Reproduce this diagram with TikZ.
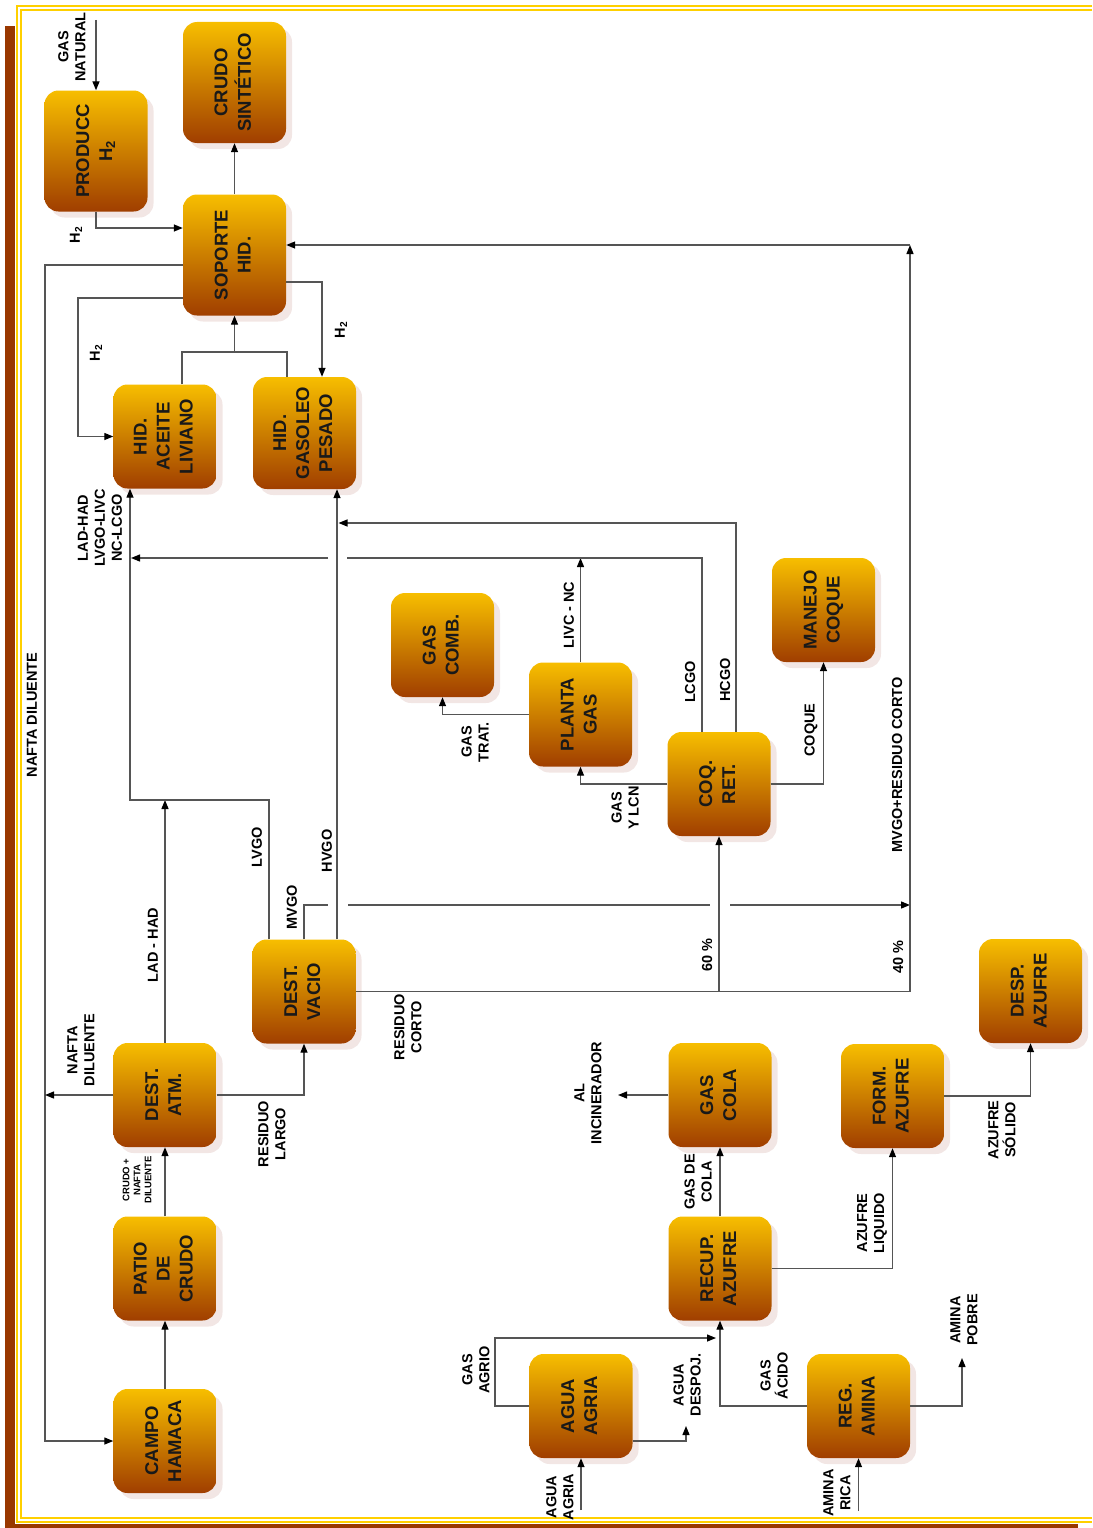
\documentclass[tikz,border=0pt]{standalone}
\usepackage{fontspec}
\setmainfont{Liberation Sans}
\usepackage{graphicx}
\usepackage{tikz}
\usetikzlibrary{arrows.meta, shadows}

\definecolor{boxtop}{RGB}{247,190,0}
\definecolor{boxbot}{RGB}{160,62,0}
\definecolor{shadowc}{RGB}{242,230,228}
\definecolor{linec}{RGB}{85,85,85}
\definecolor{frameyel}{RGB}{255,208,0}
\definecolor{framebrown}{RGB}{153,56,0}

% texto girado dentro de las unidades
\newcommand{\bx}[1]{\rotatebox{90}{\begin{tabular}{@{}c@{}}#1\end{tabular}}}

\begin{document}
\begin{tikzpicture}[x=1pt, y=-1pt,
  unit/.style={rectangle, rounded corners=14pt, top color=boxtop, bottom color=boxbot,
               minimum width=103pt, minimum height=104pt, inner sep=0pt,
               font=\fontsize{18.5}{23}\selectfont\bfseries, text=black!90,
               drop shadow={shadow xshift=6pt, shadow yshift=-6pt, fill=shadowc, opacity=1}},
  tall/.style={unit, minimum height=121pt},
  lbl/.style={rotate=90, align=center, inner sep=0pt,
              font=\fontsize{14.5}{17}\selectfont\bfseries},
  line/.style={draw=linec, line width=1.3pt},
  arr/.style={line, -{Triangle[length=9pt, width=7pt, black]}}
]
\useasboundingbox (0,0) rectangle (1092,1528);

% marco
\fill[framebrown] (5,26) rectangle (15,1528);
\fill[framebrown] (5,1524) rectangle (1078,1528);
\draw[frameyel, line width=2pt] (1092,6) -- (17,6) -- (17,1521.5) -- (1092,1521.5);
\draw[frameyel, line width=1.6pt] (1092,10) -- (21,10) -- (21,1518) -- (1092,1518);

% unidades
\node[tall] (produc)  at (96,151)     {\bx{PRODUCC\\H\textsubscript{2}}};
\node[tall] (crudo)   at (234.5,82.5) {\bx{CRUDO\\SINTÉTICO}};
\node[tall] (soporte) at (234.5,255)  {\bx{SOPORTE\\HID.}};
\node[unit] (hidal)   at (165,436.5)  {\bx{HID.\\ACEITE\\LIVIANO}};
\node[unit, minimum height=112pt] (hidgp) at (304.5,433) {\bx{HID.\\GASOLEO\\PESADO}};
\node[unit] (gascomb) at (442.5,645)  {\bx{GAS\\COMB.}};
\node[unit] (planta)  at (580.5,714.5) {\bx{PLANTA\\GAS}};
\node[unit] (coq)     at (719,784)    {\bx{COQ.\\RET.}};
\node[unit] (manejo)  at (823.5,610)  {\bx{MANEJO\\COQUE}};
\node[unit] (destatm) at (165,1095)   {\bx{DEST.\\ATM.}};
\node[unit] (destvac) at (304,991.5)  {\bx{DEST.\\VACIO}};
\node[unit] (patio)   at (165,1268.5) {\bx{PATIO\\DE\\CRUDO}};
\node[unit] (campo)   at (165,1441)   {\bx{CAMPO\\HAMACA}};
\node[unit] (gascola) at (720,1095)   {\bx{GAS\\COLA}};
\node[unit] (recup)   at (720,1268.5) {\bx{RECUP.\\AZUFRE}};
\node[unit] (form)    at (892.5,1096) {\bx{FORM.\\AZUFRE}};
\node[unit] (desp)    at (1030.5,991) {\bx{DESP.\\AZUFRE}};
\node[unit] (agua)    at (581,1406)   {\bx{AGUA\\AGRIA}};
\node[unit] (amina)   at (858.5,1406) {\bx{REG.\\AMINA}};

% puntos de paso
\coordinate (gn)    at (96,20);
\coordinate (nd1)   at (45,265);
\coordinate (nd2)   at (45,1441);
\coordinate (h2a)   at (78,298);
\coordinate (hj)    at (234.5,352);
\coordinate (r40)   at (910,991.5);
\coordinate (rtop)  at (910,245);
\coordinate (r60)   at (719,991.5);
\coordinate (mv)    at (304,905);
\coordinate (mvg1)  at (328,905);
\coordinate (mvg2)  at (348,905);
\coordinate (mvg3)  at (710,905);
\coordinate (mvg4)  at (730,905);
\coordinate (mvend) at (910,905);
\coordinate (lv)    at (130,800);
\coordinate (lc1)   at (702,558);
\coordinate (lcg1)  at (347,558);
\coordinate (lcg2)  at (328,558);
\coordinate (lcend) at (131,558);
\coordinate (hc1)   at (736,523);
\coordinate (hcend) at (338.5,523);
\coordinate (inc)   at (618,1095);
\coordinate (aain)  at (581,1510);
\coordinate (ga1)   at (495,1338);
\coordinate (ga2)   at (716,1338);
\coordinate (ad)    at (686,1426);
\coordinate (arin)  at (858.5,1511);
\coordinate (ap)    at (962,1358);

% hidrogeno y soporte
\draw[arr] (gn) -- (produc.north);
\draw[arr] (produc.south) |- ([yshift=27pt]soporte.west);
\draw[arr] (soporte.north) -- (crudo.south);
\draw[arr] ([yshift=-10pt]soporte.west) -- (nd1) -- (nd2) -- (campo.west);
\draw[arr] ([yshift=-43pt]soporte.west) -- (h2a) |- (hidal.west);
\draw[arr] ([yshift=-27pt]soporte.east) -| ([xshift=17.5pt]hidgp.north);
\draw[line] ([xshift=17pt]hidal.north) |- (hj) -| ([xshift=-17.5pt]hidgp.north);
\draw[arr] (hj) -- (soporte.south);

% destilacion
\draw[arr] (campo.north) -- (patio.south);
\draw[arr] (patio.north) -- (destatm.south);
\draw[arr] (destatm.west) -- (destatm.west -| nd1);
\draw[arr] (destatm.east) -| (destvac.south);
\draw[arr] (destatm.north) -- (destatm.north |- lv);
\draw[arr] ([xshift=-35pt]destvac.north) |- (lv) -- ([xshift=-35pt]hidal.south);
\draw[arr] ([xshift=33pt]destvac.north) -- ([xshift=33pt]destvac.north |- hidgp.south);
\draw[line] (destvac.north) -- (mv) -- (mvg1);
\draw[line] (mvg2) -- (mvg3);
\draw[arr] (mvg4) -- (mvend);
\draw[line] (destvac.east) -- (r40);
\draw[arr] (r40) -- (rtop);
\draw[arr] (rtop) -- (soporte.east |- rtop);
\draw[arr] (r60) -- (coq.south);

% coquificacion
\draw[arr] (coq.west) -| (planta.south);
\draw[arr] (planta.west) -| (gascomb.south);
\draw[arr] (planta.north) -- (planta.north |- lc1);
\draw[arr] (coq.east) -| (manejo.south);
\draw[line] ([xshift=-17pt]coq.north) -- (lc1) -- (lcg1);
\draw[arr] (lcg2) -- (lcend);
\draw[arr] ([xshift=17pt]coq.north) -- (hc1) -- (hcend);

% azufre
\draw[arr] (gascola.west) -- (inc);
\draw[arr] (recup.north) -- (gascola.south);
\draw[arr] (recup.east) -| (form.south);
\draw[arr] (form.east) -| (desp.south);
\draw[arr] (aain) -- (agua.south);
\draw[arr] (agua.west) -| (ga1) -- (ga2);
\draw[arr] ([yshift=-35pt]agua.east) -| (ad);
\draw[arr] (amina.west) -| (recup.south);
\draw[arr] (arin) -- (amina.south);
\draw[arr] (amina.east) -| (ap);

% etiquetas
\node[lbl] (lgn)      at (72,47)    {GAS\\NATURAL};
\node[lbl] (lh2a)     at (76,235)   {H\textsubscript{2}};
\node[lbl] (lh2b)     at (96,353)   {H\textsubscript{2}};
\node[lbl] (lh2c)     at (341,330)  {H\textsubscript{2}};
\node[lbl] (lnafta)   at (32,715)   {NAFTA DILUENTE};
\node[lbl] (lndil)    at (81,1050)  {NAFTA\\DILUENTE};
\node[lbl] (lhid)     at (100,528)  {LAD-HAD\\LVGO-LIVC\\NC-LCGO};
\node[lbl] (lladhad)  at (153,945)  {LAD - HAD};
\node[lbl] (llvgo)    at (257,847)  {LVGO};
\node[lbl] (lmvgo)    at (292,907)  {MVGO};
\node[lbl] (lhvgo)    at (327,851)  {HVGO};
\node[lbl] (lreslar)  at (272,1134) {RESIDUO\\LARGO};
\node[lbl, font=\fontsize{9.5}{11}\selectfont\bfseries] (lcrudo) at (137,1180) {CRUDO +\\NAFTA\\DILUENTE};
\node[lbl] (lrescor)  at (408,1027) {RESIDUO\\CORTO};
\node[lbl] (l60)      at (707,955)  {60 \%};
\node[lbl] (l40)      at (898,957)  {40 \%};
\node[lbl] (lmvres)   at (897,765)  {MVGO+RESIDUO CORTO};
\node[lbl] (lgaslcn)  at (625,808)  {GAS\\Y LCN};
\node[lbl] (lgastrat) at (475,742)  {GAS\\TRAT.};
\node[lbl] (llivc)    at (569,615)  {LIVC - NC};
\node[lbl] (llcgo)    at (690,682)  {LCGO};
\node[lbl] (lhcgo)    at (725,680)  {HCGO};
\node[lbl] (lcoque)   at (811,730)  {COQUE};
\node[lbl] (linc)     at (588,1093) {AL\\INCINERADOR};
\node[lbl] (lgcola)   at (698,1182) {GAS DE\\COLA};
\node[lbl] (lazliq)   at (872,1223) {AZUFRE\\LIQUIDO};
\node[lbl] (lazsol)   at (1002,1130) {AZUFRE\\SÓLIDO};
\node[lbl] (laa)      at (560,1497) {AGUA\\AGRIA};
\node[lbl] (lgagrio)  at (476,1370) {GAS\\AGRIO};
\node[lbl] (ladesp)   at (687,1385) {AGUA\\DESPOJ.};
\node[lbl] (lgacido)  at (774,1376) {GAS\\ÁCIDO};
\node[lbl] (larica)   at (837,1493) {AMINA\\RICA};
\node[lbl] (lapobre)  at (964,1320) {AMINA\\POBRE};
\end{tikzpicture}
\end{document}
